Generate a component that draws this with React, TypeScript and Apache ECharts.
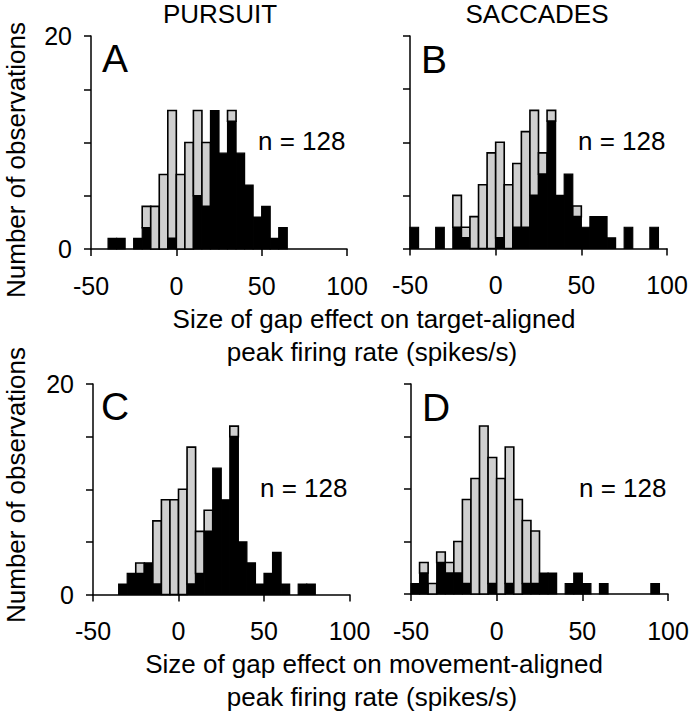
import React, { useEffect, useRef } from "react";
import * as echarts from "echarts";

// Histogram bins (left edges, spikes/s), bin width 5
const BIN = 5;
const binStarts = [-50, -45, -40, -35, -30, -25, -20, -15, -10, -5, 0, 5, 10, 15, 20, 25, 30, 35, 40, 45, 50, 55, 60, 65, 70, 75, 80, 85, 90, 95];

// Panel A: pursuit, target-aligned
const aBlack = [0, 0, 1, 1, 0, 1, 2, 0, 0, 1, 0, 0, 5, 4, 13, 9, 12, 9, 6, 3, 4, 1, 2, 0, 0, 0, 0, 0, 0, 0];
const aGray = [0, 0, 0, 0, 0, 0, 2, 4, 7, 12, 7, 10, 8, 6, 0, 0, 1, 0, 0, 0, 0, 0, 0, 0, 0, 0, 0, 0, 0, 0];
// Panel B: saccades, target-aligned
const bBlack = [2, 0, 0, 2, 0, 2, 1, 0, 0, 0, 1, 0, 2, 2, 5, 7, 12, 5, 7, 3, 2, 3, 3, 1, 0, 2, 0, 0, 2, 0];
const bGray = [0, 0, 0, 0, 0, 3, 1, 3, 6, 9, 9, 6, 6, 9, 8, 2, 1, 0, 0, 1, 0, 0, 0, 0, 0, 0, 0, 0, 0, 0];
// Panel C: pursuit, movement-aligned
const cBlack = [0, 0, 0, 1, 2, 2, 3, 1, 0, 0, 0, 1, 2, 6, 12, 9, 15, 5, 3, 1, 2, 4, 1, 0, 1, 1, 0, 0, 0, 0];
const cGray = [0, 0, 0, 0, 0, 1, 0, 6, 9, 9, 10, 13, 4, 2, 0, 0, 1, 0, 0, 0, 0, 0, 0, 0, 0, 0, 0, 0, 0, 0];
// Panel D: saccades, movement-aligned
const dBlack = [1, 2, 0, 3, 2, 2, 1, 0, 0, 1, 0, 1, 0, 1, 1, 2, 2, 0, 1, 2, 1, 0, 1, 0, 0, 0, 0, 0, 1, 0];
const dGray = [0, 1, 1, 1, 1, 3, 8, 11, 16, 12, 11, 13, 9, 6, 5, 0, 0, 0, 0, 0, 0, 0, 0, 0, 0, 0, 0, 0, 0, 0];

const xTicks = [-50, 0, 50, 100];
const yShownLabels = [0, 20];

const columnTitles = ["PURSUIT", "SACCADES"];
const panelLetters = ["A", "B", "C", "D"];
const nLabel = "n = 128";
const yTitle = "Number of observations";
const xTitleTop = ["Size of gap effect on target-aligned", "peak firing rate (spikes/s)"];
const xTitleBottom = ["Size of gap effect on movement-aligned", "peak firing rate (spikes/s)"];

const FONT = "'Liberation Sans', Arial, Helvetica, sans-serif";
const GRAY = "#cfcfcf";

const panels = [
  { black: aBlack, gray: aGray, grid: { left: 91, top: 36, width: 256, height: 213 }, yLabels: true },
  { black: bBlack, gray: bGray, grid: { left: 410, top: 36, width: 257, height: 212.5 }, yLabels: false },
  { black: cBlack, gray: cGray, grid: { left: 93, top: 384, width: 256.5, height: 210.5 }, yLabels: true },
  { black: dBlack, gray: dGray, grid: { left: 411, top: 384, width: 257, height: 210 }, yLabels: false },
];

function renderHist(params: any, api: any) {
  const x0 = api.value(0);
  const b = api.value(1);
  const g = api.value(2);
  const children: any[] = [];
  if (b > 0) {
    const p1 = api.coord([x0, b]);
    const p0 = api.coord([x0 + BIN, 0]);
    children.push({
      type: "rect",
      shape: { x: p1[0], y: p1[1], width: p0[0] - p1[0], height: p0[1] - p1[1] },
      style: { fill: "#000", stroke: "#000", lineWidth: 1.2 },
    });
  }
  if (g > 0) {
    const p1 = api.coord([x0, b + g]);
    const p0 = api.coord([x0 + BIN, b]);
    children.push({
      type: "rect",
      shape: { x: p1[0], y: p1[1], width: p0[0] - p1[0], height: p0[1] - p1[1] },
      style: { fill: GRAY, stroke: "#000", lineWidth: 1.6 },
    });
  }
  return { type: "group", children };
}

function textEl(text: string, x: number, y: number, size: number, align = "center", extra: any = {}) {
  return {
    type: "text",
    x,
    y,
    ...extra,
    style: {
      text,
      fill: "#000",
      font: `${size}px ${FONT}`,
      textAlign: align,
      textVerticalAlign: "middle",
    },
  };
}

export default function App() {
  const ref = useRef<HTMLDivElement>(null);

  useEffect(() => {
    if (!ref.current) return;
    const chart = echarts.init(ref.current, null, { renderer: "svg" });

    const grids = panels.map((p) => ({ ...p.grid, containLabel: false, outerBoundsMode: "none" }));
    const xAxes = panels.map((p, i) => ({
      type: "value",
      gridIndex: i,
      min: -50,
      max: 100,
      interval: 50,
      axisLine: { show: true, onZero: false, lineStyle: { color: "#000", width: 1.5 } },
      axisTick: { show: true, length: 7, lineStyle: { color: "#000", width: 1.5 } },
      axisLabel: {
        color: "#000",
        fontFamily: FONT,
        fontSize: 25,
        margin: 24,
        formatter: (v: number) => (xTicks.includes(v) ? String(v) : ""),
      },
      splitLine: { show: false },
    }));
    const yAxes = panels.map((p, i) => ({
      type: "value",
      gridIndex: i,
      min: 0,
      max: 20,
      interval: 5,
      axisLine: { show: true, onZero: false, lineStyle: { color: "#000", width: 1.5 } },
      axisTick: { show: true, length: 7, lineStyle: { color: "#000", width: 1.5 } },
      axisLabel: {
        show: p.yLabels,
        color: "#000",
        fontFamily: FONT,
        fontSize: 25,
        margin: 19,
        formatter: (v: number) => (yShownLabels.includes(v) ? String(v) : ""),
      },
      splitLine: { show: false },
    }));
    const series = panels.map((p, i) => ({
      type: "custom",
      xAxisIndex: i,
      yAxisIndex: i,
      renderItem: renderHist,
      clip: false,
      encode: { x: 0, y: 1 },
      data: binStarts
        .map((x, k) => [x, p.black[k], p.gray[k]])
        .filter((d) => d[1] + d[2] > 0),
    }));

    const graphics: any[] = [
      textEl(columnTitles[0], 220, 14, 26),
      textEl(columnTitles[1], 537, 14, 26),
      textEl(panelLetters[0], 102, 58, 39, "left"),
      textEl(panelLetters[1], 421, 59, 39, "left"),
      textEl(panelLetters[2], 101, 406, 39, "left"),
      textEl(panelLetters[3], 422, 407, 39, "left"),
      textEl(nLabel, 258, 141, 26, "left"),
      textEl(nLabel, 578, 141, 26, "left"),
      textEl(nLabel, 260, 488, 26, "left"),
      textEl(nLabel, 579, 488, 26, "left"),
      textEl(yTitle, 16, 160, 26, "center", { rotation: Math.PI / 2 }),
      textEl(yTitle, 16, 485, 26, "center", { rotation: Math.PI / 2 }),
      textEl(xTitleTop[0], 374, 319, 26),
      textEl(xTitleTop[1], 372, 352, 26),
      textEl(xTitleBottom[0], 374, 664, 26),
      textEl(xTitleBottom[1], 372, 697, 26),
    ];

    chart.setOption({
      animation: false,
      backgroundColor: "#fff",
      grid: grids,
      xAxis: xAxes,
      yAxis: yAxes,
      series,
      graphic: graphics,
    } as any);

    return () => chart.dispose();
  }, []);

  return (
    <div
      ref={ref}
      style={{ position: "fixed", left: 0, top: 0, width: 693, height: 719, background: "#fff" }}
    />
  );
}
